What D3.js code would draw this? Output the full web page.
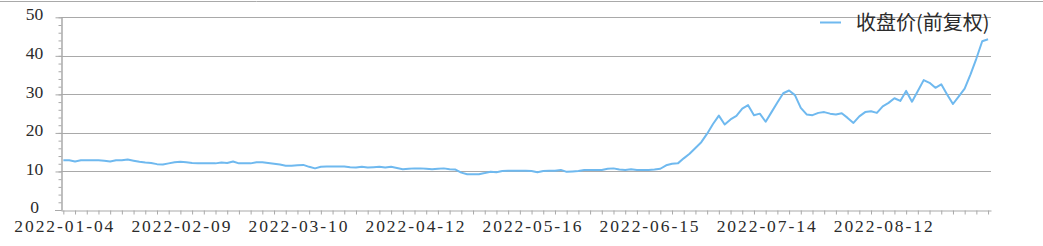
<!DOCTYPE html>
<html>
<head>
<meta charset="utf-8">
<script src="https://cdn.jsdelivr.net/npm/d3@7"></script>
<style>
  body { margin: 0; background: #fff; }
  svg { display: block; }
</style>
</head>
<body>
<svg id="chart" width="1043" height="246"></svg>
<script>
// closing price (forward adjusted), one value per trading day
const closes = [
  12.9, 12.9, 12.6, 12.9, 12.9, 12.9, 12.9, 12.8, 12.6, 12.9,
  12.9, 13.1, 12.8, 12.5, 12.3, 12.2, 11.9, 11.8, 12.1, 12.4,
  12.5, 12.4, 12.2, 12.1, 12.1, 12.1, 12.1, 12.3, 12.2, 12.6,
  12.1, 12.1, 12.1, 12.4, 12.4, 12.2, 12.0, 11.8, 11.5, 11.5,
  11.6, 11.7, 11.2, 10.8, 11.2, 11.3, 11.3, 11.3, 11.3, 11.1,
  11.0, 11.2, 11.0, 11.1, 11.2, 11.0, 11.2, 10.9, 10.6, 10.7,
  10.8, 10.8, 10.7, 10.55, 10.7, 10.8, 10.6, 10.5, 9.7, 9.3,
  9.25, 9.3, 9.6, 9.95, 9.8, 10.1, 10.2, 10.2, 10.2, 10.2,
  10.1, 9.8, 10.1, 10.2, 10.2, 10.4, 9.9, 10.0, 10.1, 10.35,
  10.35, 10.4, 10.4, 10.7, 10.8, 10.5, 10.4, 10.55, 10.4, 10.4,
  10.4, 10.5, 10.7, 11.6, 12.0, 12.1, 13.4, 14.6, 16.1, 17.6,
  19.8, 22.3, 24.5, 22.2, 23.5, 24.4, 26.3, 27.2, 24.6, 25.0,
  22.9, 25.4, 27.9, 30.3, 31.0, 29.8, 26.5, 24.8, 24.6, 25.2,
  25.4, 25.0, 24.8, 25.1, 23.9, 22.6, 24.3, 25.4, 25.6, 25.2,
  26.9, 27.8, 29.0, 28.3, 30.9, 28.1, 30.9, 33.7, 33.0, 31.7,
  32.6, 30.0, 27.5, 29.5, 31.5, 35.2, 39.3, 43.8, 44.3
];
const dateLabels = ["2022-01-04", "2022-02-09", "2022-03-10", "2022-04-12",
                    "2022-05-16", "2022-06-15", "2022-07-14", "2022-08-12"];
const labelStep = 20;
const yTicks = [0, 10, 20, 30, 40, 50];
const seriesName = "收盘价(前复权)";

const lineColor = "#6fb9ef";
const gridColor = "#a9a9a9";
const textColor = "#2b2b2b";
const numFont = "'Liberation Serif', serif";

const svg = d3.select("#chart");

// top border of the frame
svg.append("line")
  .attr("x1", 0).attr("x2", 1043)
  .attr("y1", 1.5).attr("y2", 1.5)
  .attr("stroke", gridColor);

const x = d3.scaleLinear().domain([-0.4, closes.length - 0.5]).range([61, 991]);
const y = d3.scaleLinear().domain([0, 50]).range([210, 17.3]);

// horizontal grid
svg.append("g").selectAll("line")
  .data(yTicks.filter(d => d > 0))
  .join("line")
  .attr("x1", 61).attr("x2", 991)
  .attr("y1", d => Math.round(y(d)) + 0.5)
  .attr("y2", d => Math.round(y(d)) + 0.5)
  .attr("stroke", gridColor);

// y axis: minor then major ticks
const yMinor = svg.append("g").attr("transform", "translate(61.5,0)")
  .call(d3.axisLeft(y).tickValues(d3.range(0, 51, 2)).tickSize(3).tickFormat("").tickSizeOuter(0));
const yMajor = svg.append("g").attr("transform", "translate(61.5,0)")
  .call(d3.axisLeft(y).tickValues(yTicks).tickSize(6).tickSizeOuter(0));
[yMinor, yMajor].forEach(g => {
  g.selectAll("path, line").attr("stroke", gridColor);
});
yMajor.selectAll("text")
  .attr("x", -27)
  .attr("dy", "0.15em")
  .attr("text-anchor", "middle")
  .attr("fill", textColor)
  .style("font", "17.5px " + numFont);

// x axis (category index)
const xAxis = svg.append("g").attr("transform", "translate(0,210.5)")
  .call(d3.axisBottom(x)
    .tickValues(d3.range(0, closes.length, 2))
    .tickSize(4)
    .tickSizeOuter(0)
    .tickFormat(i => i % labelStep === 0 ? (dateLabels[i / labelStep] || "") : ""));
xAxis.selectAll("path, line").attr("stroke", gridColor);
xAxis.selectAll("text")
  .filter(function() { return this.textContent !== ""; })
  .attr("y", 7)
  .attr("dy", "0.8em")
  .attr("fill", textColor)
  .attr("textLength", 99)
  .attr("lengthAdjust", "spacing")
  .style("font", "17.5px " + numFont);
// short stub of the axis left of the y axis
svg.append("line")
  .attr("x1", 55).attr("x2", 61)
  .attr("y1", 210.5).attr("y2", 210.5)
  .attr("stroke", gridColor);

// price line
const line = d3.line()
  .x((d, i) => x(i))
  .y(d => y(d));
svg.append("path")
  .datum(closes)
  .attr("fill", "none")
  .attr("stroke", lineColor)
  .attr("stroke-width", 2)
  .attr("stroke-linejoin", "round")
  .attr("d", line);

// legend
const legend = svg.append("g").attr("transform", "translate(820,22.5)");
legend.append("line")
  .attr("x1", 0).attr("x2", 21)
  .attr("stroke", lineColor).attr("stroke-width", 2);
legend.append("text")
  .attr("x", 36).attr("dy", "0.35em")
  .attr("fill", textColor)
  .style("font", "20px 'Noto Sans CJK SC', sans-serif")
  .text(seriesName);
</script>
</body>
</html>
